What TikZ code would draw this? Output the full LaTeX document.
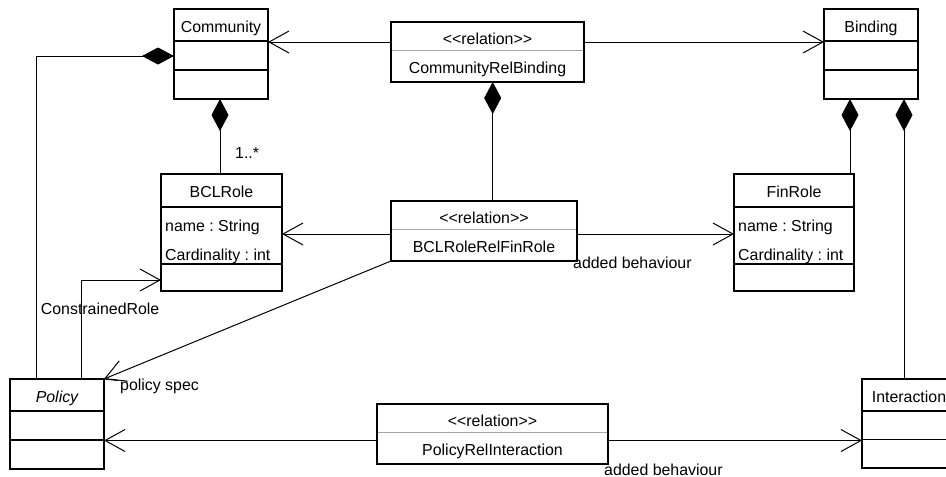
\documentclass[tikz,border=0pt]{standalone}
\usepackage{fontspec}
\setmainfont{Liberation Sans}
\usetikzlibrary{arrows.meta,calc}
\frenchspacing

\tikzset{
  box/.style={draw, line width=1.4pt, inner sep=0pt, outer sep=0pt, anchor=north west},
  sep/.style={line width=1.3pt},
  relsep/.style={line width=0.6pt, black!35},
  conn/.style={line width=1pt},
  open/.style={-{Straight Barb[length=20pt,width=22pt]}},
  comp/.style={{Diamond[length=32pt,width=17pt]}-},
  txt/.style={inner sep=0pt, anchor=base, font=\fontsize{15.9}{19}\selectfont},
  lbl/.style={txt, anchor=base west},
}

% UML class: id, x, y, width, height, first divider, second divider, title
\newcommand\umlclass[8]{%
  \node[box, minimum width=#4pt, minimum height=#5pt] (#1) at (#2,#3) {};
  \draw[sep] ($(#1.north west)+(0,#6)$) -- ($(#1.north east)+(0,#6)$);
  \draw[sep] ($(#1.north west)+(0,#7)$) -- ($(#1.north east)+(0,#7)$);
  \node[txt] (#1-title) at ($(#1.north)+(0,23.5)$) {#8};
}
% attribute lines of a class: id, first attribute, second attribute
\newcommand\umlattrs[3]{%
  \node[lbl] (#1-a1) at ($(#1.north west)+(4,57.7)$) {#2};
  \node[lbl] (#1-a2) at ($(#1.north west)+(4,86)$) {#3};
}
% relation class: id, x, y, width, name
\newcommand\umlrel[5]{%
  \node[box, minimum width=#4pt, minimum height=60pt] (#1) at (#2,#3) {};
  \draw[relsep] ($(#1.north west)+(0.7,28.5)$) -- ($(#1.north east)+(-0.7,28.5)$);
  \node[txt] (#1-st) at ($(#1.north)+(0,22.5)$) {<\kern0pt<relation>\kern0pt>};
  \node[txt] (#1-name) at ($(#1.north)+(0,51.5)$) {#5};
}

\begin{document}
\begin{tikzpicture}[x=1pt, y=-1pt]
\useasboundingbox (0,0) rectangle (946,477);
\clip (0,0) rectangle (946,477);

% classes
\umlclass{comm}{174}{9}{94}{90}{32}{61}{Community}
\umlclass{bind}{824}{9}{94}{90}{32}{61}{Binding}
\umlclass{bcl}{161}{174}{121}{117}{33}{90}{BCLRole}
\umlattrs{bcl}{name : String}{Cardinality : int}
\umlclass{fin}{734}{174}{120}{117}{33}{90}{FinRole}
\umlattrs{fin}{name : String}{Cardinality : int}
\umlclass{pol}{10}{379}{94}{90}{32}{61}{\itshape Policy}
\umlclass{inter}{862}{379}{94}{89}{32}{60.5}{Interaction}

% relation classes
\umlrel{crb}{391}{22}{193}{CommunityRelBinding}
\umlrel{brf}{391}{201}{186}{BCLRoleRelFinRole}
\umlrel{pri}{377}{404}{231}{PolicyRelInteraction}

% navigable associations
\draw[conn,open] ($(crb.north west)+(0,20)$) -- ($(comm.north east)+(0,33)$);
\draw[conn,open] ($(crb.north east)+(0,20)$) -- ($(bind.north west)+(0,33)$);
\draw[conn,open] ($(brf.north west)+(0,33)$) -- ($(bcl.north east)+(0,60)$);
\draw[conn,open] ($(brf.north east)+(0,33)$) -- ($(fin.north west)+(0,60)$);
\draw[conn,open] (brf.south west) -- (pol.north east);
\draw[conn] (pol.north east) -- ($(pol.north east)+(14,1.5)$);
\draw[conn,open] ($(pol.north west)+(71.5,0)$) |- ($(bcl.north west)+(0,106)$);
\draw[conn,open] ($(pri.north west)+(0,36.5)$) -- ($(pol.north east)+(0,61.5)$);
\draw[conn,open] ($(pri.north east)+(0,36.5)$) -- ($(inter.north west)+(0,61.5)$);

% compositions
\draw[conn,comp] ($(comm.north west)+(0,47)$) -| ($(pol.north west)+(26,0)$);
\draw[conn,comp] ($(comm.south west)+(46,0)$) -- ($(bcl.north west)+(59,0)$);
\draw[conn,comp] ($(crb.south west)+(101.7,0)$) -- ($(brf.north west)+(101.7,0)$);
\draw[conn,comp] ($(bind.south west)+(26,0)$) -- ($(fin.north west)+(116,0)$);
\draw[conn,comp] ($(bind.south west)+(80,0)$) -- ($(inter.north west)+(42,0)$);

% role and multiplicity labels
\node[lbl] (mult) at (235,158.3) {1..*};
\node[lbl] (beh1) at (573,268.3) {added behaviour};
\node[lbl] (spec) at (120,390) {policy spec};
\node[lbl] (crole) at (40.7,314) {ConstrainedRole};
\node[lbl] (beh2) at (604,475) {added behaviour};
\end{tikzpicture}
\end{document}
